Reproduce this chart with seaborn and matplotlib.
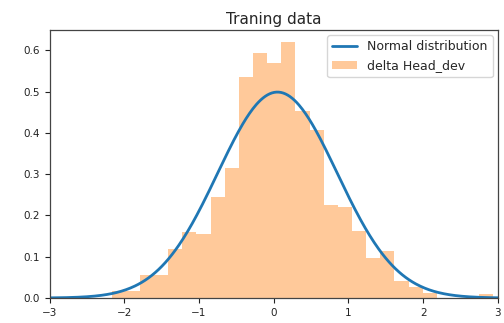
import numpy as np
import pandas as pd
import matplotlib
matplotlib.use("Agg")
import matplotlib.pyplot as plt
import seaborn as sns

# Histogram of delta Head_dev (density per bin)
bin_start = -2.17
bin_width = 0.1893
densities = [0.018, 0.018, 0.056, 0.056, 0.119, 0.161, 0.155, 0.244, 0.315,
             0.535, 0.593, 0.568, 0.619, 0.452, 0.406, 0.226, 0.220, 0.163,
             0.097, 0.113, 0.042, 0.026, 0.012, 0.0, 0.0, 0.0, 0.010]

# Fitted normal distribution
mu = 0.05
sigma = 0.80

x_ticks = [-3, -2, -1, 0, 1, 2, 3]
y_ticks = [0.0, 0.1, 0.2, 0.3, 0.4, 0.5, 0.6]

sns.set_style("ticks")
plt.rcParams["font.family"] = ["DejaVu Sans"]

edges = bin_start + bin_width * np.arange(len(densities) + 1)
centers = (edges[:-1] + edges[1:]) / 2
hist_df = pd.DataFrame({"value": centers, "density": densities})

fig = plt.figure(figsize=(5.04, 3.23), dpi=100)
ax = fig.add_axes([0.0984, 0.0774, 0.8893, 0.8297])

sns.histplot(data=hist_df, x="value", weights="density", bins=edges.tolist(),
             stat="count", color="#ff7f0e", alpha=0.42, element="bars",
             linewidth=0, label="delta Head_dev", ax=ax)

xs = np.linspace(-3, 3, 400)
pdf = np.exp(-0.5 * ((xs - mu) / sigma) ** 2) / (sigma * np.sqrt(2 * np.pi))
sns.lineplot(x=xs, y=pdf, color="#1f77b4", linewidth=2,
             label="Normal distribution", ax=ax)

ax.set_xlim(-3, 3)
ax.set_ylim(0, 0.649)
ax.set_xticks(x_ticks)
ax.set_yticks(y_ticks)
ax.set_xlabel("")
ax.set_ylabel("")
ax.tick_params(labelsize=7.5, length=3.5, width=0.8, colors="#222222")
for s in ax.spines.values():
    s.set_visible(True)
    s.set_color("#444444")
    s.set_linewidth(0.9)
ax.set_title("Traning data", fontsize=11, pad=4)

handles, labels = ax.get_legend_handles_labels()
order = [labels.index("Normal distribution"), labels.index("delta Head_dev")]
ax.legend([handles[i] for i in order], [labels[i] for i in order],
          loc="upper right", fontsize=9, frameon=True, fancybox=True,
          framealpha=0.8, edgecolor="#cccccc", borderaxespad=0.4)

fig.savefig("out.png", dpi=100)
